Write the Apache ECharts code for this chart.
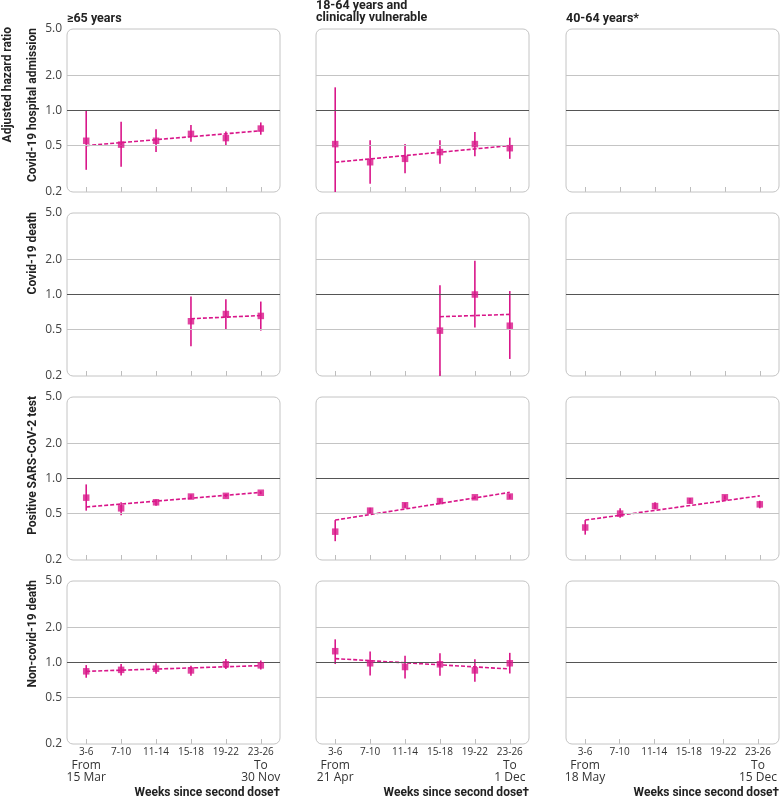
<!DOCTYPE html>
<html><head><meta charset="utf-8">
<script src="https://cdn.jsdelivr.net/npm/echarts@6/dist/echarts.min.js"></script>
<style>html,body{margin:0;padding:0;background:#fff}#c{width:780px;height:799px}</style>
</head><body><div id="c"></div>
<script>
// ---------- data ----------
const categories = ['3-6', '7-10', '11-14', '15-18', '19-22', '23-26'];
const colTitles = ['≥65 years', '18-64 years and\nclinically vulnerable', '40-64 years*'];
const rowLabels = ['Covid-19 hospital admission', 'Covid-19 death', 'Positive SARS-CoV-2 test', 'Non-covid-19 death'];
const yAxisTitle = 'Adjusted hazard ratio';
const xAxisTitle = 'Weeks since second dose†';
const startDates = ['15 Mar', '21 Apr', '18 May'];
const endDates = ['30 Nov', '1 Dec', '15 Dec'];
const yTicks = [0.2, 0.5, 1, 2, 5];

// Covid-19 hospital admission
const hosp65Est  = [0.55, 0.51, 0.55, 0.63, 0.58, 0.70];
const hosp65Low  = [0.31, 0.33, 0.44, 0.54, 0.50, 0.62];
const hosp65High = [0.99, 0.80, 0.69, 0.75, 0.66, 0.79];
const hosp65Trend = [0.50, 0.67];
const hospCVEst  = [0.515, 0.36, 0.385, 0.44, 0.515, 0.475];
const hospCVLow  = [0.20, 0.235, 0.29, 0.35, 0.405, 0.385];
const hospCVHigh = [1.58, 0.555, 0.515, 0.555, 0.655, 0.585];
const hospCVTrend = [0.36, 0.50];

// Covid-19 death
const death65Est  = [null, null, null, 0.59, 0.68, 0.655];
const death65Low  = [null, null, null, 0.36, 0.50, 0.49];
const death65High = [null, null, null, 0.96, 0.91, 0.87];
const death65Trend = [0.62, 0.66];
const deathCVEst  = [null, null, null, 0.49, 1.0, 0.54];
const deathCVLow  = [null, null, null, 0.20, 0.52, 0.28];
const deathCVHigh = [null, null, null, 1.20, 1.95, 1.07];
const deathCVTrend = [0.645, 0.675];

// Positive SARS-CoV-2 test
const pos65Est  = [0.685, 0.555, 0.625, 0.70, 0.71, 0.755];
const pos65Low  = [0.53, 0.485, 0.585, 0.67, 0.69, 0.735];
const pos65High = [0.89, 0.625, 0.66, 0.73, 0.735, 0.775];
const pos65Trend = [0.57, 0.76];
const posCVEst  = [0.35, 0.53, 0.59, 0.64, 0.69, 0.70];
const posCVLow  = [0.29, 0.50, 0.56, 0.61, 0.67, 0.67];
const posCVHigh = [0.44, 0.56, 0.62, 0.67, 0.71, 0.73];
const posCVTrend = [0.44, 0.76];
const pos40Est  = [0.38, 0.50, 0.58, 0.645, 0.69, 0.60];
const pos40Low  = [0.33, 0.46, 0.545, 0.61, 0.66, 0.555];
const pos40High = [0.44, 0.555, 0.625, 0.68, 0.72, 0.645];
const pos40Trend = [0.44, 0.71];

// Non-covid-19 death
const non65Est  = [0.84, 0.865, 0.885, 0.855, 0.965, 0.945];
const non65Low  = [0.74, 0.775, 0.80, 0.77, 0.88, 0.87];
const non65High = [0.95, 0.97, 0.985, 0.94, 1.07, 1.04];
const non65Trend = [0.84, 0.94];
const nonCVEst  = [1.25, 0.985, 0.915, 0.965, 0.855, 0.985];
const nonCVLow  = [0.97, 0.775, 0.73, 0.77, 0.685, 0.805];
const nonCVHigh = [1.58, 1.24, 1.14, 1.20, 1.065, 1.21];
const nonCVTrend = [1.08, 0.88];

// ---------- layout ----------
const MAG = '#d9168a';
const FONT = '"Open Sans", "Noto Sans", sans-serif';
const BFONT = 'Roboto, "Noto Sans", sans-serif';
const colLeft = [67, 316, 566];
const rowTop = [29, 213, 397, 581];
const W = 213, H = 163;

function mk(est, low, high, trend, start) {
  return { est, low, high, trend, start };
}
const panels = [
  [mk(hosp65Est, hosp65Low, hosp65High, hosp65Trend, 0), mk(hospCVEst, hospCVLow, hospCVHigh, hospCVTrend, 0), null],
  [mk(death65Est, death65Low, death65High, death65Trend, 3), mk(deathCVEst, deathCVLow, deathCVHigh, deathCVTrend, 3), null],
  [mk(pos65Est, pos65Low, pos65High, pos65Trend, 0), mk(posCVEst, posCVLow, posCVHigh, posCVTrend, 0), mk(pos40Est, pos40Low, pos40High, pos40Trend, 0)],
  [mk(non65Est, non65Low, non65High, non65Trend, 0), mk(nonCVEst, nonCVLow, nonCVHigh, nonCVTrend, 0), null]
];

const grid = [], xAxis = [], yAxis = [], series = [], graphic = [];
for (let r = 0; r < 4; r++) {
  for (let c = 0; c < 3; c++) {
    const gi = r * 3 + c;
    grid.push({ left: colLeft[c], top: rowTop[r], width: W, height: H, show: false });
    xAxis.push({
      type: 'value', gridIndex: gi, min: -0.55, max: 5.55,
      axisLine: { show: false }, splitLine: { show: false },
      axisTick: { show: true, inside: true, length: 5, customValues: [0, 1, 2, 3, 4, 5], lineStyle: { color: '#bdbdbd', width: 1 } },
      axisLabel: {
        show: r === 3, customValues: [0, 1, 2, 3, 4, 5], margin: 2,
        formatter: function (v) {
          const i = Math.round(v);
          let s = '{a|' + categories[i] + '}';
          if (i === 0) s += '\n{b|From}\n{b|' + startDates[c] + '}';
          if (i === 5) s += '\n{b|To}\n{b|' + endDates[c] + '}';
          return s;
        },
        rich: {
          a: { fontSize: 10, lineHeight: 13, color: '#333', fontFamily: FONT },
          b: { fontSize: 12, lineHeight: 12.5, color: '#333', fontFamily: FONT }
        }
      }
    });
    yAxis.push({
      type: 'log', logBase: 10, gridIndex: gi, min: 0.2, max: 5,
      axisLine: { show: false }, splitLine: { show: false },
      axisTick: { show: true, length: 3, customValues: [0.5, 1, 2], lineStyle: { color: '#888' } },
      axisLabel: {
        show: c === 0, customValues: yTicks, margin: 5,
        formatter: v => Number(v).toFixed(1),
        fontSize: 12, color: '#444', fontFamily: FONT
      }
    });
    // reference lines
    series.push({
      type: 'line', xAxisIndex: gi, yAxisIndex: gi, data: [], silent: true,
      markLine: {
        silent: true, symbol: 'none', label: { show: false }, animation: false,
        data: [
          { yAxis: 2, lineStyle: { color: '#c4c4c4', width: 1, type: 'solid' } },
          { yAxis: 0.5, lineStyle: { color: '#c4c4c4', width: 1, type: 'solid' } },
          { yAxis: 1, lineStyle: { color: '#555', width: 1.2, type: 'solid' } }
        ]
      }
    });
    // panel frame
    graphic.push({
      type: 'rect', shape: { x: colLeft[c], y: rowTop[r], width: W, height: H, r: 6 },
      style: { fill: null, stroke: '#c4c4c4', lineWidth: 1 }, silent: true, z: 1
    });
    const p = panels[r][c];
    if (!p) continue;
    const bars = [], pts = [];
    for (let i = 0; i < categories.length; i++) {
      if (p.est[i] == null) continue;
      bars.push([i, p.low[i], p.high[i]]);
      pts.push([i, p.est[i]]);
    }
    series.push({
      type: 'custom', xAxisIndex: gi, yAxisIndex: gi, data: bars, z: 3,
      encode: { x: 0, y: [1, 2] },
      renderItem: function (params, api) {
        const a = api.coord([api.value(0), api.value(1)]);
        const b = api.coord([api.value(0), api.value(2)]);
        return { type: 'line', shape: { x1: a[0], y1: a[1], x2: b[0], y2: b[1] }, style: { stroke: MAG, lineWidth: 1.6 } };
      }
    });
    series.push({
      type: 'line', xAxisIndex: gi, yAxisIndex: gi, z: 4,
      data: [[p.start, p.trend[0]], [5, p.trend[1]]],
      symbol: 'none', lineStyle: { color: MAG, width: 1.6, type: [4, 2] }
    });
    series.push({
      type: 'scatter', xAxisIndex: gi, yAxisIndex: gi, z: 5,
      data: pts, symbol: 'rect', symbolSize: 6.5,
      itemStyle: { color: MAG }
    });
  }
}

// titles
graphic.push({ type: 'text', x: colLeft[0], y: 19, style: { text: colTitles[0], font: 'bold 12.5px ' + BFONT, fill: '#222', verticalAlign: 'middle' } });
graphic.push({ type: 'text', x: colLeft[1], y: 12, style: { text: colTitles[1], font: 'bold 12.5px ' + BFONT, fill: '#222', verticalAlign: 'middle', lineHeight: 12 } });
graphic.push({ type: 'text', x: colLeft[2], y: 19, style: { text: colTitles[2], font: 'bold 12.5px ' + BFONT, fill: '#222', verticalAlign: 'middle' } });
// y titles
graphic.push({ type: 'text', x: 8, y: 27, rotation: Math.PI / 2, style: { text: yAxisTitle, font: 'bold 12px ' + BFONT, fill: '#222', align: 'right', verticalAlign: 'middle' } });
for (let r = 0; r < 4; r++) {
  graphic.push({ type: 'text', x: 33, y: rowTop[r] - 1, rotation: Math.PI / 2, style: { text: rowLabels[r], font: 'bold 12px ' + BFONT, fill: '#222', align: 'right', verticalAlign: 'middle' } });
}
// x titles
for (let c = 0; c < 3; c++) {
  graphic.push({ type: 'text', x: colLeft[c] + W, y: 793, style: { text: xAxisTitle, font: 'bold 12px ' + BFONT, fill: '#222', align: 'right', verticalAlign: 'middle' } });
}

const chart = echarts.init(document.getElementById('c'), null, { renderer: 'canvas' });
chart.setOption({ animation: false, backgroundColor: '#fff', grid, xAxis, yAxis, series, graphic });
</script>
</body></html>
